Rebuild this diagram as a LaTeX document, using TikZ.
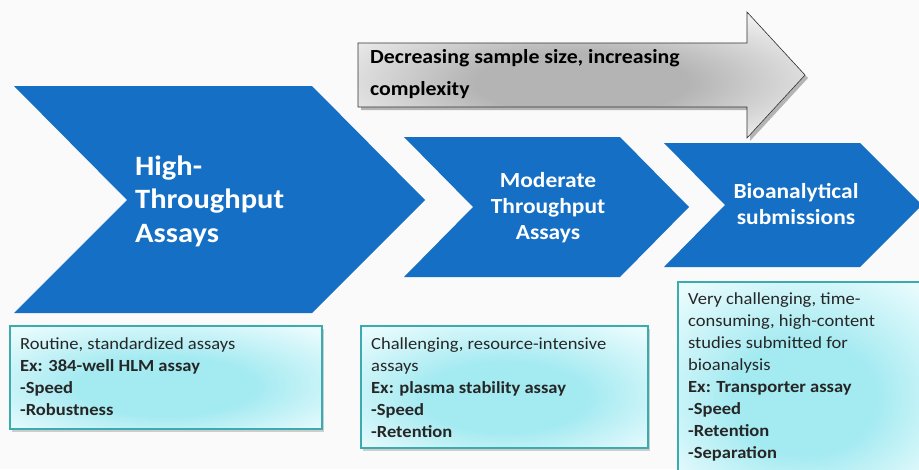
\documentclass[tikz,border=0pt]{standalone}
\usepackage{fontspec}
\setmainfont{Carlito}[FakeStretch=1.09]
\usetikzlibrary{shadows}
\definecolor{chevblue}{HTML}{1570C5}
\definecolor{notecore}{HTML}{A3EAF1}
\definecolor{noteedge}{HTML}{E8FBFD}
\definecolor{noteline}{HTML}{3AACB0}
\definecolor{bgcol}{HTML}{FAFAFA}
\definecolor{arrowcore}{HTML}{B4B4B4}
\definecolor{arrowedge}{HTML}{EDEDED}
% broad cyan glow for the note boxes
\pgfdeclareradialshading{noteglow}{\pgfpoint{0bp}{-6bp}}{%
  color(0bp)=(notecore); color(14bp)=(notecore); color(34bp)=(noteedge); color(50bp)=(noteedge)}
% soft grey body of the trend arrow
\pgfdeclareradialshading{arrowglow}{\pgfpoint{0bp}{-4bp}}{%
  color(0bp)=(arrowcore); color(12bp)=(arrowcore); color(30bp)=(arrowedge); color(50bp)=(arrowedge)}
\begin{document}
\begin{tikzpicture}[x=1pt,y=-1pt,
  chev/.style={fill=chevblue},
  chevtext/.style={text=white, inner sep=0pt, anchor=base},
  notebox/.style={draw=noteline, line width=1.2pt, shading=noteglow,
    drop shadow={opacity=0.3, shadow xshift=2pt, shadow yshift=-3pt, fill=black!60}},
  notetext/.style={font=\fontsize{17}{22}\selectfont, align=left, inner sep=0pt, anchor=base west, text=black!85},
  trendarrow/.style={draw=black!80, line width=0.6pt, shading=arrowglow,
    drop shadow={opacity=0.4, shadow xshift=3pt, shadow yshift=-3pt, fill=black!70}}
]
\clip (0,0) rectangle (919,469);
\fill[bgcol] (0,0) rectangle (919,469);

% trend arrow
\path[trendarrow] (358,43) -- (747,43) -- (747,12) -- (805,75) -- (747,138)
  -- (747,107) -- (358,107) -- cycle;
\node[font=\bfseries\fontsize{20}{32}\selectfont, align=left, inner sep=0pt, anchor=base west]
  (trend) at (370,95) {Decreasing sample size, increasing\\complexity};

% process chevrons
\fill[chev] (14,86) -- (312,86) -- (425,200) -- (312,313) -- (14,313) -- (127,200) -- cycle;
\fill[chev] (404,137) -- (620,137) -- (689,207) -- (620,277) -- (404,277) -- (473,207) -- cycle;
\fill[chev] (664,143) -- (860,143) -- (922,205) -- (860,267) -- (664,267) -- (725,205) -- cycle;

\node[chevtext, anchor=base west, align=left, font=\bfseries\fontsize{28}{33.5}\selectfont]
  (hta) at (135,242) {High-\\Throughput\\Assays};
\node[chevtext, align=center, font=\bfseries\fontsize{21.5}{26}\selectfont]
  (mta) at (548,239) {Moderate\\Throughput\\Assays};
\node[chevtext, align=center, font=\bfseries\fontsize{21.5}{26}\selectfont]
  (bas) at (796,224) {Bioanalytical\\submissions};

% notes under each stage
\path[notebox] (10,326) rectangle (322,429);
\path[notebox] (361,326) rectangle (648,448);
\path[notebox] (678,282) rectangle (930,480);

\node[notetext] (note1) at (20,415) {Routine, standardized assays\\
  \textbf{Ex: 384-well HLM assay}\\ \textbf{-Speed}\\ \textbf{-Robustness}};
\node[notetext] (note2) at (371,437) {Challenging, resource-intensive\\ assays\\
  \textbf{Ex: plasma stability assay}\\ \textbf{-Speed}\\ \textbf{-Retention}};
\node[notetext] (note3) at (688,458) {Very challenging, time-\\ consuming, high-content\\
  studies submitted for\\ bioanalysis\\ \textbf{Ex: Transporter assay}\\
  \textbf{-Speed}\\ \textbf{-Retention}\\ \textbf{-Separation}};
\end{tikzpicture}
\end{document}
